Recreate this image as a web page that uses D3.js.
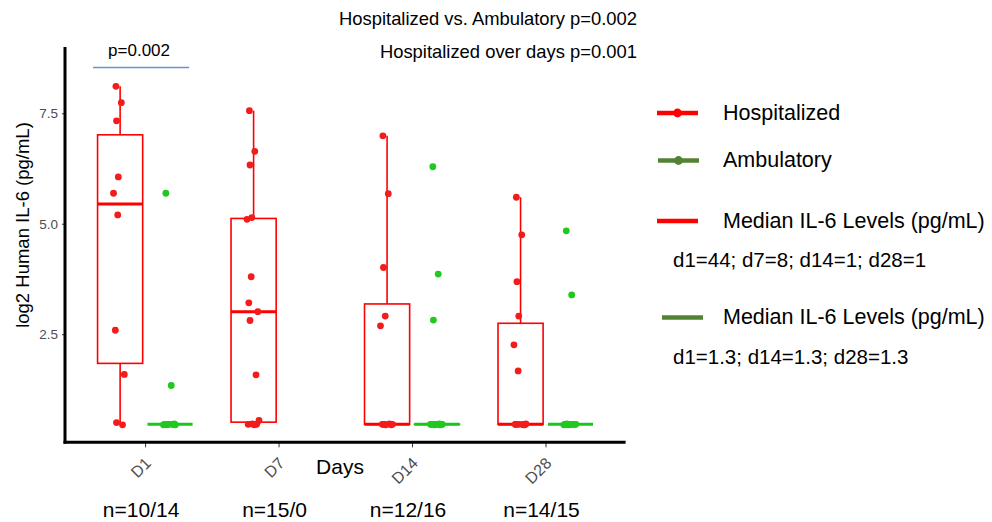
<!DOCTYPE html>
<html>
<head>
<meta charset="utf-8">
<script src="https://cdn.jsdelivr.net/npm/d3@7"></script>
<style>
  html, body { margin: 0; padding: 0; background: #ffffff; }
  svg { display: block; font-family: "Liberation Sans", Arial, sans-serif; }
</style>
</head>
<body>
<svg id="chart" width="992" height="522"></svg>
<script>
// ---------------- data ----------------
const days = ["D1", "D7", "D14", "D28"];
const nLabels = ["n=10/14", "n=15/0", "n=12/16", "n=14/15"];
const yTicks = [2.5, 5.0, 7.5];

const hospD1  = [8.11, 7.74, 7.33, 6.06, 5.69, 5.20, 2.59, 1.59, 0.50, 0.45];
const hospD7  = [7.56, 6.64, 6.33, 5.14, 5.10, 3.80, 3.21, 3.01, 2.81, 1.58, 0.55, 0.47, 0.46, 0.46, 0.45];
const hospD14 = [6.99, 5.68, 4.01, 2.91, 2.69, 0.46, 0.46, 0.45, 0.46, 0.47, 0.46, 0.45];
const hospD28 = [5.60, 4.75, 3.69, 2.91, 2.26, 1.67, 0.46, 0.45, 0.46, 0.46, 0.47, 0.46, 0.45, 0.46];

const ambD1  = [5.69, 1.34, 0.46, 0.46, 0.45, 0.46, 0.46, 0.47, 0.46, 0.46, 0.45, 0.46, 0.46, 0.46];
const ambD7  = [];
const ambD14 = [6.29, 3.86, 2.82, 0.46, 0.46, 0.45, 0.46, 0.46, 0.46, 0.47, 0.46, 0.46, 0.45, 0.46, 0.46, 0.46];
const ambD28 = [4.84, 3.39, 0.46, 0.46, 0.45, 0.46, 0.46, 0.46, 0.47, 0.46, 0.46, 0.45, 0.46, 0.46, 0.46];

const hospitalized = [hospD1, hospD7, hospD14, hospD28];
const ambulatory   = [ambD1, ambD7, ambD14, ambD28];

const titleLine1 = "Hospitalized vs. Ambulatory p=0.002";
const titleLine2 = "Hospitalized over days p=0.001";
const bracketLabel = "p=0.002";
const legendItems = [
  { type: "point", color: "#ff0000", label: "Hospitalized" },
  { type: "point", color: "#548235", label: "Ambulatory" },
  { type: "line",  color: "#ff0000", label: "Median IL-6 Levels (pg/mL)", note: "d1=44; d7=8; d14=1; d28=1" },
  { type: "line",  color: "#548235", label: "Median IL-6 Levels (pg/mL)", note: "d1=1.3; d14=1.3; d28=1.3" }
];

// ---------------- styles ----------------
const RED = "#ff0000", PT_RED = "#f21c1c";
const GREEN = "#16c916", PT_GREEN = "#20c820";

const svg = d3.select("#chart");
svg.append("rect").attr("width", 992).attr("height", 522).attr("fill", "#fff");

const panel = { left: 65, right: 625.6, top: 47, bottom: 442.3 };

const x = d3.scalePoint().domain(days).range([panel.left, panel.right]).padding(0.6);
const step = x.step();
const dodge = step * 0.187;
const boxW = step * 0.338;

const y = d3.scaleLinear().domain([0.054, 9.0]).range([panel.bottom, panel.top]);

const jitterPattern = [-0.35, 0.1, -0.3, -0.15, -0.55, -0.2, -0.4, 0.35, -0.3, 0.2, 0.45, -0.1, 0.25, -0.45, 0.05, 0.3];

function stats(vals) {
  const s = vals.slice().sort(d3.ascending);
  const q1 = d3.quantile(s, 0.25), med = d3.quantile(s, 0.5), q3 = d3.quantile(s, 0.75);
  const iqr = q3 - q1;
  const lo = d3.min(s.filter(v => v >= q1 - 1.5 * iqr));
  const hi = d3.max(s.filter(v => v <= q3 + 1.5 * iqr));
  return { q1, med, q3, lo, hi };
}

const groups = [];
days.forEach((d, i) => {
  groups.push({ day: d, vals: hospitalized[i], cx: x(d) - dodge, stroke: RED, pt: PT_RED });
  groups.push({ day: d, vals: ambulatory[i], cx: x(d) + dodge, stroke: GREEN, pt: PT_GREEN });
});

const plot = svg.append("g");

groups.filter(g => g.vals.length).forEach(g => {
  const st = stats(g.vals);
  const gg = plot.append("g");
  gg.append("line").attr("x1", g.cx).attr("x2", g.cx).attr("y1", y(st.q3)).attr("y2", y(st.hi))
    .attr("stroke", g.stroke).attr("stroke-width", 1.6);
  gg.append("line").attr("x1", g.cx).attr("x2", g.cx).attr("y1", y(st.q1)).attr("y2", y(st.lo))
    .attr("stroke", g.stroke).attr("stroke-width", 1.6);
  gg.append("rect").attr("x", g.cx - boxW / 2).attr("width", boxW)
    .attr("y", y(st.q3)).attr("height", Math.max(0, y(st.q1) - y(st.q3)))
    .attr("fill", "none").attr("stroke", g.stroke).attr("stroke-width", 1.6);
  gg.append("line").attr("x1", g.cx - boxW / 2).attr("x2", g.cx + boxW / 2)
    .attr("y1", y(st.med)).attr("y2", y(st.med))
    .attr("stroke", g.stroke).attr("stroke-width", 3);
  gg.selectAll("circle").data(g.vals).enter().append("circle")
    .attr("cx", (v, j) => g.cx + jitterPattern[j % jitterPattern.length] * 12)
    .attr("cy", v => y(v))
    .attr("r", 3.4)
    .attr("fill", g.pt);
});

// ---------------- axes ----------------
const yAxis = svg.append("g").attr("transform", `translate(${panel.left},0)`)
  .call(d3.axisLeft(y).tickValues(yTicks).tickFormat(d3.format(".1f")).tickSize(3).tickPadding(4));
yAxis.select(".domain").remove();
yAxis.selectAll(".tick line").attr("stroke", "#333").attr("stroke-width", 1);
yAxis.selectAll(".tick text").attr("fill", "#4d4d4d").style("font-size", "13.5px")
  .style("font-family", "'Liberation Sans', Arial, sans-serif");

const xAxis = svg.append("g").attr("transform", `translate(0,${panel.bottom})`)
  .call(d3.axisBottom(x).tickSize(5).tickFormat(""));
xAxis.select(".domain").remove();
xAxis.selectAll(".tick line").attr("stroke", "#333").attr("stroke-width", 1);

svg.append("g").selectAll("text").data(days).enter().append("text")
  .attr("transform", d => `translate(${x(d) + 7},${panel.bottom + 22}) rotate(-45)`)
  .attr("text-anchor", "end")
  .attr("fill", "#4d4d4d")
  .style("font-size", "16px")
  .text(d => d);

// axis lines
svg.append("line").attr("x1", panel.left).attr("x2", panel.left)
  .attr("y1", panel.top).attr("y2", panel.bottom + 1.5)
  .attr("stroke", "#000").attr("stroke-width", 3);
svg.append("line").attr("x1", panel.left - 1.5).attr("x2", panel.right)
  .attr("y1", panel.bottom).attr("y2", panel.bottom)
  .attr("stroke", "#000").attr("stroke-width", 3);

// axis titles
svg.append("text")
  .attr("transform", `translate(29,225) rotate(-90)`)
  .attr("text-anchor", "middle")
  .style("font-size", "18.5px")
  .attr("fill", "#000")
  .text("log2 Human IL-6 (pg/mL)");

svg.append("text").attr("x", 340).attr("y", 474).attr("text-anchor", "middle")
  .style("font-size", "21px").attr("fill", "#000").text("Days");

svg.append("g").selectAll("text").data(days).enter().append("text")
  .attr("x", d => x(d) - 4).attr("y", 517).attr("text-anchor", "middle")
  .style("font-size", "21px").attr("fill", "#000")
  .text((d, i) => nLabels[i]);

// titles
svg.append("text").attr("x", 637).attr("y", 25).attr("text-anchor", "end")
  .style("font-size", "18.4px").attr("fill", "#000").text(titleLine1);
svg.append("text").attr("x", 637).attr("y", 57.5).attr("text-anchor", "end")
  .style("font-size", "18.4px").attr("fill", "#000").text(titleLine2);

// bracket
svg.append("text").attr("x", x("D1") - 6).attr("y", 56).attr("text-anchor", "middle")
  .style("font-size", "17px").attr("fill", "#000").text(bracketLabel);
svg.append("line").attr("x1", x("D1") - 52).attr("x2", x("D1") + 44)
  .attr("y1", 67.5).attr("y2", 67.5).attr("stroke", "#6a8fdc").attr("stroke-width", 1.4);

// ---------------- legend ----------------
const legendY = [113, 160.5, 221, 317.5];
const leg = svg.append("g");
legendItems.forEach((it, i) => {
  const ly = legendY[i];
  const x0 = it.color === RED ? 657 : (it.type === "point" ? 658 : 662);
  leg.append("line").attr("x1", x0).attr("x2", x0 + 41).attr("y1", ly).attr("y2", ly)
    .attr("stroke", it.color).attr("stroke-width", 4.5);
  if (it.type === "point") {
    leg.append("circle").attr("cx", x0 + 20.5).attr("cy", ly).attr("r", 4.4).attr("fill", it.color);
  }
  leg.append("text").attr("x", 723).attr("y", ly + 6.5)
    .style("font-size", "21.5px").attr("fill", "#000").text(it.label);
  if (it.note) {
    leg.append("text").attr("x", 673).attr("y", ly + 46)
      .style("font-size", "20.5px").attr("fill", "#000").text(it.note);
  }
});
</script>
</body>
</html>
